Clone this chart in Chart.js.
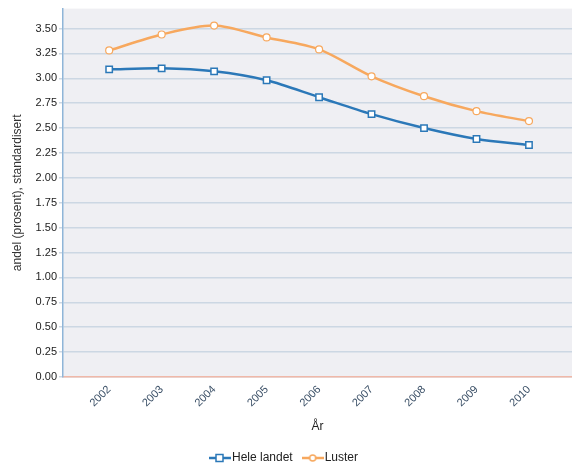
<!DOCTYPE html>
<html>
<head>
<meta charset="utf-8">
<script src="https://cdn.jsdelivr.net/npm/chart.js@4"></script>
<style>
  html, body { margin: 0; padding: 0; background: #fff; }
  #wrap { width: 572px; height: 465px; }
</style>
</head>
<body>
<div id="wrap"><canvas id="lineChart" width="572" height="465"></canvas></div>
<script>
// data
var years = [2002, 2003, 2004, 2005, 2006, 2007, 2008, 2009, 2010];
var heleLandet = [3.09, 3.10, 3.07, 2.98, 2.81, 2.64, 2.50, 2.39, 2.33];
var luster = [3.28, 3.44, 3.53, 3.41, 3.29, 3.02, 2.82, 2.67, 2.57];
var yTicks = [0, 0.25, 0.5, 0.75, 1, 1.25, 1.5, 1.75, 2, 2.25, 2.5, 2.75, 3, 3.25, 3.5];

var blue = "#2b78b8";
var orange = "#f7a85e";

// legend icon: short line with a marker in the middle
function legendIcon(color, shape) {
    var c = document.createElement("canvas");
    c.width = 22; c.height = 10;
    var g = c.getContext("2d");
    g.strokeStyle = color;
    g.lineWidth = 2.5;
    g.beginPath(); g.moveTo(0, 5); g.lineTo(22, 5); g.stroke();
    g.fillStyle = "#fff";
    g.lineWidth = 1.5;
    if (shape === "rect") {
        g.fillRect(7, 1.5, 7, 7); g.strokeRect(7, 1.5, 7, 7);
    } else {
        g.beginPath(); g.arc(11, 5, 3, 0, Math.PI * 2); g.fill(); g.stroke();
    }
    return c;
}

var plotBg = {
    id: "plotBg",
    beforeDraw: function (chart) {
        var a = chart.chartArea, ctx = chart.ctx;
        ctx.save();
        ctx.fillStyle = "#efeff3";
        ctx.fillRect(a.left, a.top, a.right - a.left, a.bottom - a.top);
        ctx.restore();
    }
};

var ctx = document.getElementById("lineChart").getContext("2d");
var chart = new Chart(ctx, {
    type: "line",
    data: {
        datasets: [
            {
                label: "Hele landet",
                data: years.map(function (y, i) { return { x: y, y: heleLandet[i] }; }),
                borderColor: blue,
                backgroundColor: "#fff",
                borderWidth: 2.5,
                tension: 0.3,
                pointStyle: "rect",
                pointRadius: 4.5,
                pointBorderWidth: 1.5,
                pointBorderColor: blue,
                pointBackgroundColor: "#fff"
            },
            {
                label: "Luster",
                data: years.map(function (y, i) { return { x: y, y: luster[i] }; }),
                borderColor: orange,
                backgroundColor: "#fff",
                borderWidth: 2.5,
                tension: 0.3,
                pointStyle: "circle",
                pointRadius: 3.5,
                pointBorderWidth: 1.2,
                pointBorderColor: orange,
                pointBackgroundColor: "#fff"
            }
        ]
    },
    options: {
        responsive: false,
        animation: false,
        layout: { autoPadding: false, padding: { top: 7, right: 0, left: 0, bottom: -9 } },
        scales: {
            x: {
                type: "linear",
                min: 2001.12,
                max: 2010.82,
                afterBuildTicks: function (s) { s.ticks = years.map(function (y) { return { value: y }; }); },
                afterFit: function (s) { s.height = 61; },
                grid: { display: false, drawTicks: false },
                border: { display: true, color: "#f0b8a8", width: 1.5 },
                ticks: {
                    maxRotation: 45, minRotation: 45,
                    color: "#3a4f66",
                    font: { family: "Liberation Sans", size: 11 },
                    padding: 6,
                    callback: function (v) { return String(v); }
                },
                title: {
                    display: true, text: "År", color: "#222",
                    font: { family: "Liberation Sans", size: 12 },
                    padding: { top: 0, bottom: 4 }
                }
            },
            y: {
                min: 0,
                max: 3.7,
                afterBuildTicks: function (s) { s.ticks = yTicks.map(function (v) { return { value: v }; }); },
                afterFit: function (s) { s.width = 63; },
                grid: { color: "#ccd7e3", lineWidth: 1.5, drawTicks: true, tickLength: 4 },
                border: { display: true, color: "#8fb5d8", width: 1.5 },
                ticks: {
                    color: "#222",
                    font: { family: "Liberation Sans", size: 11 },
                    padding: 2,
                    callback: function (v) { return v.toFixed(2); }
                },
                title: {
                    display: true, text: "andel (prosent), standardisert", color: "#333",
                    font: { family: "Liberation Sans", size: 12 },
                    padding: { top: 10, bottom: 0 }
                }
            }
        },
        plugins: {
            legend: {
                position: "bottom",
                labels: {
                    color: "#222",
                    font: { family: "Liberation Sans", size: 12 },
                    usePointStyle: true,
                    padding: 14,
                    generateLabels: function (ch) {
                        return ch.data.datasets.map(function (d, i) {
                            return {
                                text: d.label,
                                datasetIndex: i,
                                pointStyle: legendIcon(d.borderColor, i === 0 ? "rect" : "circle"),
                                fontColor: "#222",
                                lineWidth: 0
                            };
                        });
                    }
                }
            },
            tooltip: { enabled: false }
        }
    },
    plugins: [plotBg]
});
console.log("chartArea", chart.chartArea);
</script>
</body>
</html>
